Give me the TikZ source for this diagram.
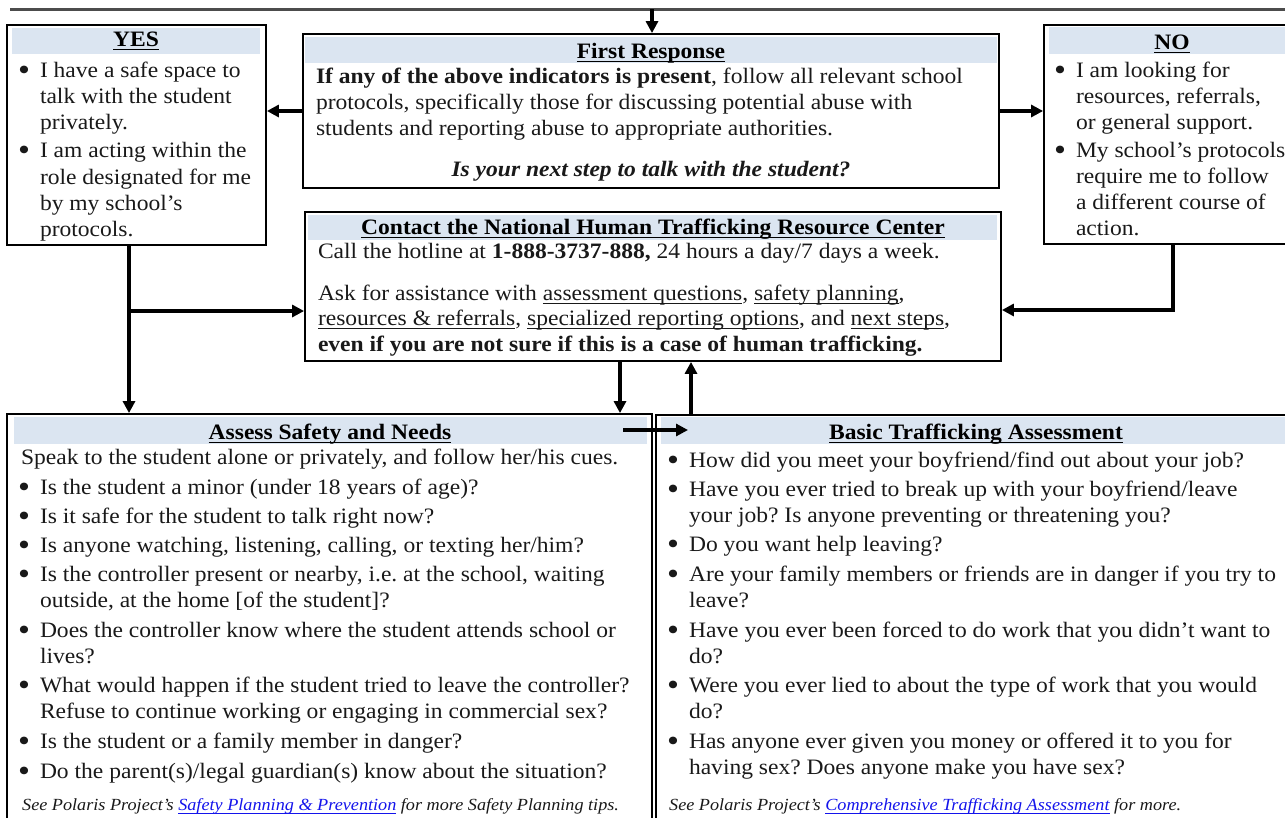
\documentclass[tikz,border=0pt]{standalone}
\usepackage{graphicx}
\usepackage{fontspec}
\setmainfont{Liberation Serif}[FakeStretch=1.07]
\usetikzlibrary{arrows.meta}
\definecolor{hdrblue}{RGB}{219,229,241}
\definecolor{ink}{RGB}{25,25,25}
\definecolor{linkblue}{RGB}{20,20,235}
\frenchspacing
\newsavebox\ulbox
\newcommand\uln[1]{\sbox\ulbox{#1}\rlap{\usebox\ulbox}\rule[-3.6pt]{\wd\ulbox}{1.1pt}}
\newcommand\lnk[1]{{\color{linkblue}\uln{#1}}}
\newcommand\bigbul{\raisebox{-3.2pt}{\scalebox{1.45}{\textbullet}}}
\tikzset{
  frame/.style={draw=black, line width=1.8pt, inner sep=0pt, fill=none},
  tx/.style={anchor=base west, inner sep=0pt, outer sep=0pt, text=ink, font=\fontsize{22}{26}\selectfont},
  ctx/.style={tx, anchor=base},
  ttl/.style={anchor=base, inner sep=0pt, text=black, font=\fontsize{22}{26}\selectfont\bfseries},
  ft/.style={anchor=base west, inner sep=0pt, text=ink, font=\fontsize{17}{20}\selectfont\itshape},
  conn/.style={line width=3.5pt, draw=black, -{Triangle[length=12pt,width=12pt]}},
  topline/.style={line width=3pt, draw=black!70},
}
\newcommand\tln[4]{\node[tx] (#1) at (#2,{#3+6}) {#4};}
\newcommand\bln[4]{\node[tx] (#1) at (#2,{#3+6}) {\llap{\bigbul\hspace{10pt}}#4};}
\begin{document}
\begin{tikzpicture}[x=1pt,y=-1pt]
\useasboundingbox (0,0) rectangle (1285,817);
\clip (0,0) rectangle (1285,817);
% header fills
\fill[hdrblue] (12,28) rectangle (260,54);
\fill[hdrblue] (305,37) rectangle (997,63);
\fill[hdrblue] (1049,27) rectangle (1300,54);
\fill[hdrblue] (308,215) rectangle (997,240);
\fill[hdrblue] (14,417) rectangle (647,444);
\fill[hdrblue] (661,417) rectangle (1300,444);
% frames
\node[frame, minimum width=259pt, minimum height=220pt] (yes) at (136.5,135) {};
\node[frame, minimum width=696pt, minimum height=154pt] (first) at (651,111) {};
\node[frame, minimum width=256pt, minimum height=219pt] (no) at (1172,134.5) {};
\node[frame, minimum width=696pt, minimum height=149pt] (cont) at (653,286.5) {};
\node[frame, minimum width=645pt, minimum height=426pt] (ass) at (329.5,627) {};
\node[frame, minimum width=644pt, minimum height=425pt] (bas) at (978,627.5) {};
% titles
\node[ttl] (yesT) at (136,46) {\uln{YES}};
\node[ttl] (noT) at (1172,49) {\uln{NO}};
\node[ttl] (firstT) at (651,58) {\uln{First Response}};
\node[ttl] (contT) at (653,234) {\uln{Contact the National Human Trafficking Resource Center}};
\node[ttl] (assT) at (330,439) {\uln{Assess Safety and Needs}};
\node[ttl] (basT) at (976,439) {\uln{Basic Trafficking Assessment}};
% YES text
\bln{y1}{40}{71}{I have a safe space to}
\tln{y2}{40}{97}{talk with the student}
\tln{y3}{40}{123}{privately.}
\bln{y4}{40}{151}{I am acting within the}
\tln{y5}{40}{178}{role designated for me}
\tln{y6}{40}{204}{by my school’s}
\tln{y7}{40}{230}{protocols.}
% NO text
\bln{n1}{1076}{71}{I am looking for}
\tln{n2}{1076}{97}{resources, referrals,}
\tln{n3}{1076}{123}{or general support.}
\bln{n4}{1076}{151}{My school’s protocols}
\tln{n5}{1076}{177}{require me to follow}
\tln{n6}{1076}{203}{a different course of}
\tln{n7}{1076}{229}{action.}
% First response text
\tln{f1}{316}{77}{\textbf{If any of the above indicators is present}, follow all relevant school}
\tln{f2}{316}{103}{protocols, specifically those for discussing potential abuse with}
\tln{f3}{316}{129}{students and reporting abuse to appropriate authorities.}
\node[ctx] (f4) at (651,176) {\textbf{\textit{Is your next step to talk with the student?}}};
% Contact text
\tln{c1}{318}{252}{Call the hotline at \textbf{1-888-3737-888,} 24 hours a day/7 days a week.}
\tln{c2}{318}{294}{Ask for assistance with \uln{assessment questions}, \uln{safety planning},}
\tln{c3}{318}{319}{\uln{resources \& referrals}, \uln{specialized reporting options}, and \uln{next steps},}
\tln{c4}{318}{345}{\textbf{even if you are not sure if this is a case of human trafficking.}}
% Assess text
\tln{a0}{21}{458}{Speak to the student alone or privately, and follow her/his cues.}
\bln{a1}{40}{488}{Is the student a minor (under 18 years of age)?}
\bln{a2}{40}{517}{Is it safe for the student to talk right now?}
\bln{a3}{40}{546}{Is anyone watching, listening, calling, or texting her/him?}
\bln{a4}{40}{575}{Is the controller present or nearby, i.e. at the school, waiting}
\tln{a5}{40}{601}{outside, at the home [of the student]?}
\bln{a6}{40}{631}{Does the controller know where the student attends school or}
\tln{a7}{40}{657}{lives?}
\bln{a8}{40}{686}{What would happen if the student tried to leave the controller?}
\tln{a9}{40}{712}{Refuse to continue working or engaging in commercial sex?}
\bln{a10}{40}{742}{Is the student or a family member in danger?}
\bln{a11}{40}{772}{Do the parent(s)/legal guardian(s) know about the situation?}
\node[ft] (af) at (22,810) {See Polaris Project’s \lnk{Safety Planning \& Prevention} for more Safety Planning tips.};
% Basic text
\bln{b1}{689}{461}{How did you meet your boyfriend/find out about your job?}
\bln{b2}{689}{490}{Have you ever tried to break up with your boyfriend/leave}
\tln{b3}{689}{516}{your job? Is anyone preventing or threatening you?}
\bln{b4}{689}{545}{Do you want help leaving?}
\bln{b5}{689}{575}{Are your family members or friends are in danger if you try to}
\tln{b6}{689}{601}{leave?}
\bln{b7}{689}{631}{Have you ever been forced to do work that you didn’t want to}
\tln{b8}{689}{657}{do?}
\bln{b9}{689}{686}{Were you ever lied to about the type of work that you would}
\tln{b10}{689}{712}{do?}
\bln{b11}{689}{742}{Has anyone ever given you money or offered it to you for}
\tln{b12}{689}{768}{having sex? Does anyone make you have sex?}
\node[ft] (bf) at (669,810) {See Polaris Project’s \lnk{Comprehensive Trafficking Assessment} for more.};
% connectors
\coordinate (tl0) at (10,9);
\coordinate (tl1) at (1285,9);
\draw[topline] (tl0) -- (tl1);
\coordinate (tin) at (652,9);
\draw[conn] (tin) -- (tin |- first.north);
\draw[conn] (first.west) -- (first.west -| yes.east);
\draw[conn] (first.east) -- (first.east -| no.west);
\coordinate (ya) at (129,0);
\draw[conn] (yes.south -| ya) -- (ass.north -| ya);
\coordinate (yb) at (129,311);
\draw[conn] (yb) -- (yb -| cont.west);
\coordinate (nb) at (1173,310);
\draw[conn] (no.south -| nb) -- (nb) -- (nb -| cont.east);
\coordinate (ca) at (620,0);
\draw[conn] (cont.south -| ca) -- (ass.north -| ca);
\coordinate (cb) at (691,0);
\draw[conn] (bas.north -| cb) -- (cont.south -| cb);
\coordinate (ha) at (623,430);
\coordinate (hb) at (688,430);
\draw[conn] (ha) -- (hb);
\end{tikzpicture}
\end{document}
